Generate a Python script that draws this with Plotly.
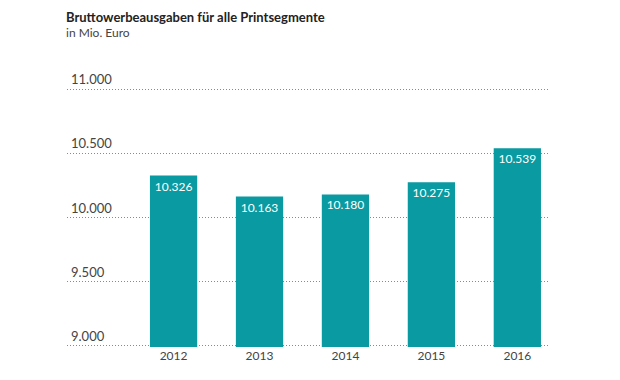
import plotly.graph_objects as go

years = ["2012", "2013", "2014", "2015", "2016"]
values = [10326, 10163, 10180, 10275, 10539]
value_labels = ["10.326", "10.163", "10.180", "10.275", "10.539"]
y_ticks = [9000, 9500, 10000, 10500, 11000]
y_tick_labels = ["9.000", "9.500", "10.000", "10.500", "11.000"]

teal = "#0a9aa1"
font_family = "Lato, 'Open Sans', sans-serif"

fig = go.Figure()
fig.add_trace(go.Bar(
    x=list(range(len(years))),
    y=values,
    width=0.55,
    marker=dict(color=teal, line=dict(width=0)),
    text=value_labels,
    textposition="inside",
    insidetextanchor="end",
    textfont=dict(color="white", size=12, family=font_family),
    hoverinfo="skip",
))

annotations = []
for v, lab in zip(y_ticks, y_tick_labels):
    annotations.append(dict(
        xref="paper", yref="y", x=0.0, y=v, text=lab,
        showarrow=False, xanchor="left", yanchor="bottom", xshift=2, yshift=0,
        font=dict(size=13, color="#444444", family=font_family),
    ))
annotations.append(dict(
    xref="paper", yref="paper", x=0.0, y=1.0, yshift=80,
    text="<b>Bruttowerbeausgaben für alle Printsegmente</b>",
    showarrow=False, xanchor="left", yanchor="top", xshift=-2, borderpad=0,
    font=dict(size=13, color="#222222", family=font_family),
))
annotations.append(dict(
    xref="paper", yref="paper", x=0.0, y=1.0, yshift=64,
    text="in Mio. Euro",
    showarrow=False, xanchor="left", yanchor="top", xshift=-2, borderpad=0,
    font=dict(size=12, color="#444444", family=font_family),
))

fig.update_layout(
    width=620, height=380,
    margin=dict(l=59, r=78, t=80, b=41, autoexpand=False),
    paper_bgcolor="white", plot_bgcolor="white",
    showlegend=False,
    annotations=annotations,
    xaxis=dict(
        range=[-1.24, 4.38],
        tickmode="array",
        tickvals=list(range(len(years))),
        ticktext=years,
        showgrid=False, zeroline=False, showline=False,
        ticks="", automargin=False,
        tickfont=dict(size=12, color="#444444", family=font_family),
    ),
    yaxis=dict(
        range=[8992, 11008],
        tickvals=y_ticks,
        showticklabels=False, automargin=False,
        showgrid=True, gridcolor="#8a8a8a", griddash="1px,2px", gridwidth=1,
        zeroline=False, showline=False,
    ),
)

fig.write_html("out.html")
